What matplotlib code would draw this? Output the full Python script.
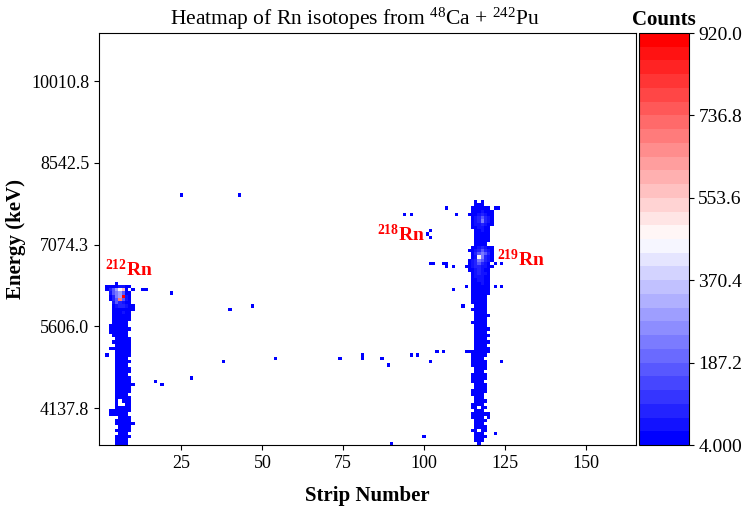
import numpy as np
import matplotlib.pyplot as plt

plt.rcParams['font.family'] = 'serif'
plt.rcParams['font.serif'] = ['Liberation Serif', 'DejaVu Serif']
plt.rcParams['mathtext.fontset'] = 'custom'
plt.rcParams['mathtext.rm'] = 'Liberation Serif'
plt.rcParams['mathtext.bf'] = 'Liberation Serif:bold'
plt.rcParams['mathtext.it'] = 'Liberation Serif:italic'

# histogram binning (strips x energy bins)
nStrips = 166
nBins = 126
eMin = 3474.2
eStep = 58.73

# count level for each character of the maps ('.' = empty)
niveles = {'1': 8, '2': 40, '3': 95, '4': 160, '5': 230, '6': 300,
           '7': 380, '8': 470, '9': 560, 'p': 690, 'r': 900}

# 212Rn column: first char = strip 1, first row = energy bin 49 (going down)
col212_strip0 = 1
col212_bin0 = 49
col212 = [
    "....1......",
    ".11112211..",
    ".1346891.1.",
    "..2456411..",
    "..1356r21..",
    "..134p421..",
    "...243211..",
    "...1233211.",
    "...1111111.",
    "...111211..",
    "...111111..",
    "...111111..",
    "...11111...",
    "..111111...",
    "..1111111..",
    "..111111...",
    "...11111...",
    "....11111..",
    "...111111..",
    "....11111..",
    "..1111111..",
    "....11111..",
    ".1..11111..",
    "....1111...",
    "....11111..",
    "....1111...",
    "....11111..",
    "....11111..",
    "....1111...",
    "....11111..",
    "....11111..",
    "....111111.",
    "....11111..",
    "....11111..",
    "....1111...",
    "....11111..",
    "....1.111..",
    "....1..11..",
    "....11111..",
    "..1111111..",
    "..111111...",
    ".....1111..",
    "....11111..",
    "....111111.",
    ".....1111..",
    "....11111..",
    ".....111...",
    "....11111..",
    "....1111...",
    "....1111...",
]

# 218Rn/219Rn column: first char = strip 105, first row = energy bin 74
col219_strip0 = 105
col219_bin0 = 74
col219 = [
    "...........1.1.......",
    "...........111.......",
    "..1.......111111.11..",
    "..........1112111....",
    ".....1...11123211....",
    "..........1234321....",
    "..........1235321....",
    "..........1223211....",
    "..........112211.....",
    "...........11211.....",
    "...........11111.....",
    "...........11111.....",
    "...........11111.....",
    "...........1111......",
    "..........1123211....",
    ".........11234321....",
    "..........1345431....",
    "..........1285321....",
    ".........12354321....",
    ".11......1234321.1.1.",
    "..1.1...112332211....",
    ".........1123211.....",
    "..........123221.....",
    "..........122211.....",
    "..........112211.....",
    "..........111211.....",
    "........1.111111.1.1.",
    "....1.....111111.....",
    "..........111111.....",
    "..........11111......",
    "..........11111......",
    "..........11111......",
    ".......1...1111......",
    "..........11111......",
    "...........1111......",
    "...........11111.....",
    "...........1111......",
    "..........11111......",
    "...........1111......",
    "...........11111.....",
    "...........1111......",
    "...........11111.....",
    "...........1111......",
    "...........11111.....",
    "...........1111......",
    "...........11111.....",
    ".1......11111111.....",
    "..........11111......",
    "..........1111.......",
    "..........11111....1.",
    "..........11111......",
    "...........1111......",
    "...........111.......",
    "..........11111......",
    "..........11111......",
    "..........1111.......",
    "...........1111......",
    "...........1111......",
    "..........11111......",
    "..........1111.......",
    "...........111.......",
    "...........1111......",
    "..........1111.......",
    "..........11.11......",
    "...........111.......",
    "..........111111.....",
    "..........1111.1.....",
    "...........1111......",
    "...........111.......",
    "...........1111......",
    "..........11.11......",
    "...........111...1...",
    "...........1111......",
    "...........111.......",
    "............1........",
]

# isolated events (strip, energy bin, counts)
sueltos_strip = [25, 43, 94, 96, 101, 102, 102, 102, 103, 14, 13, 22, 40, 47,
                 38, 54, 74, 81, 81, 87, 89, 96, 98, 104, 102, 17, 19, 28, 90, 100]
sueltos_bin = [76, 76, 70, 70, 64, 65, 63, 55, 55, 47, 47, 46, 41, 42,
               25, 26, 26, 27, 26, 26, 24, 27, 27, 28, 25, 19, 18, 20, 0, 2]
sueltos_cuentas = [6, 5, 5, 6, 5, 7, 5, 6, 6, 7, 6, 5, 7, 5,
                   5, 5, 6, 5, 6, 5, 5, 6, 5, 6, 5, 6, 5, 5, 5, 6]

ticksEnergia = [4137.8, 5606.0, 7074.3, 8542.5, 10010.8]
ticksStrip = [25, 50, 75, 100, 125, 150]


def LlenarMapa(cuentas, mapa, strip0, bin0):
    for i, fila in enumerate(mapa):
        for j, c in enumerate(fila):
            if c != '.':
                cuentas[bin0 - i, strip0 + j] = niveles[c]


cuentas = np.zeros((nBins, nStrips))
LlenarMapa(cuentas, col212, col212_strip0, col212_bin0)
LlenarMapa(cuentas, col219, col219_strip0, col219_bin0)
for s, b, n in zip(sueltos_strip, sueltos_bin, sueltos_cuentas):
    cuentas[b, s] = n
cuentas = np.ma.masked_equal(cuentas, 0)

xEdges = np.arange(nStrips + 1) - 0.5
yEdges = eMin + eStep * np.arange(nBins + 1)

cmap = plt.get_cmap('bwr', 30).copy()
cmap.set_bad('white')

fig = plt.figure(figsize=(7.46, 5.08), dpi=100)
ax = fig.add_axes([0.1327, 0.124, 0.7198, 0.811])
im = ax.pcolormesh(xEdges, yEdges, cuentas, cmap=cmap, vmin=4, vmax=920)
ax.set_xlim(xEdges[0], xEdges[-1])
ax.set_ylim(yEdges[0], yEdges[-1])
ax.set_xticks(ticksStrip)
ax.set_yticks(ticksEnergia)
ax.set_yticklabels(["%.1f" % v for v in ticksEnergia])
ax.tick_params(labelsize=13)
ax.set_xlabel("Strip Number", fontsize=15, fontweight='bold', labelpad=10)
ax.set_ylabel("Energy (keV)", fontsize=15, fontweight='bold')
ax.set_title(r"Heatmap of Rn isotopes from $^{48}$Ca + $^{242}$Pu", fontsize=15.5, x=0.477)

etiqueta = dict(color='red', fontsize=14, fontweight='bold', va='baseline')
ax.text(1.5, 6501, r"$\mathbf{^{212}}$Rn", **etiqueta)
ax.text(85.5, 7145, r"$\mathbf{^{218}}$Rn", **etiqueta)
ax.text(122.5, 6680, r"$\mathbf{^{219}}$Rn", **etiqueta)

cax = fig.add_axes([0.857, 0.124, 0.066, 0.811])
ticksCb = np.linspace(4, 920, 6)
cb = fig.colorbar(im, cax=cax, ticks=ticksCb)
cb.ax.set_yticklabels([format(v, '#.4g') for v in ticksCb])
cb.ax.tick_params(labelsize=14)
cb.ax.set_title("Counts", fontsize=15, fontweight='bold')

fig.savefig("out.png", dpi=100)
